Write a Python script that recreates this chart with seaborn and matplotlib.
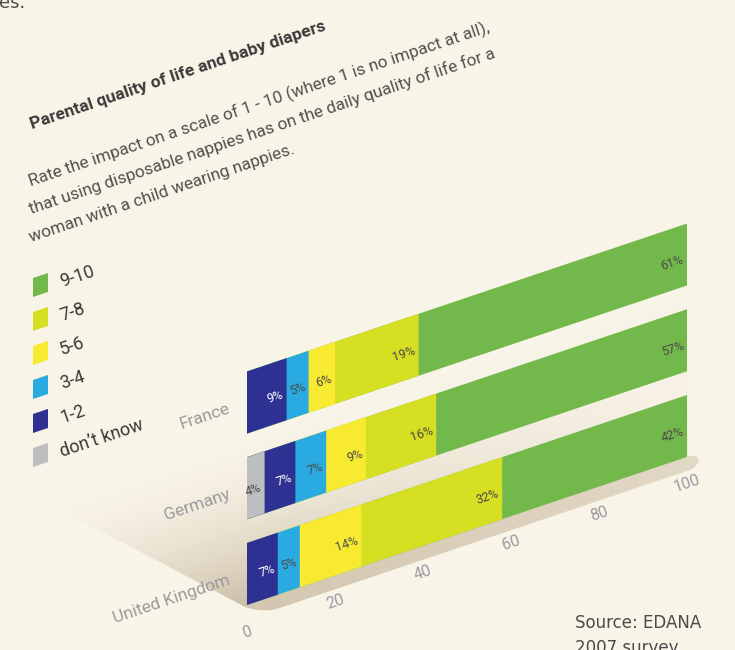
import numpy as np
import pandas as pd
import matplotlib
matplotlib.use("Agg")
import matplotlib.pyplot as plt
from matplotlib.transforms import Affine2D
from matplotlib.patches import Polygon
import seaborn as sns

# ---- data -------------------------------------------------------------
countries = ["France", "Germany", "United Kingdom"]
dont_know = [0, 4, 0]
score_1_2 = [9, 7, 7]
score_3_4 = [5, 7, 5]
score_5_6 = [6, 9, 14]
score_7_8 = [19, 16, 32]
score_9_10 = [61, 57, 42]
stack_order = ["don\u2019t know", "1-2", "3-4", "5-6", "7-8", "9-10"]
legend_order = ["9-10", "7-8", "5-6", "3-4", "1-2", "don\u2019t know"]
tick_values = [0, 20, 40, 60, 80, 100]
palette = {
    "9-10": "#73b84b",
    "7-8": "#d7df23",
    "5-6": "#f7ea31",
    "3-4": "#29abe2",
    "1-2": "#2e3192",
    "don\u2019t know": "#bcbec0",
}

title = "Parental quality of life and baby diapers"
subtitle = [
    "Rate the impact on a scale of 1 - 10 (where 1 is no impact at all),",
    "that using disposable nappies has on the daily quality of life for a",
    "woman with a child wearing nappies.",
]
source = ["Source: EDANA", "2007 survey"]

# ---- layout (pixels) --------------------------------------------------
W, H = 735, 650
PX0 = 247.0          # pixel column of value 0
PX_PER = 4.4         # pixels per percentage point
RISE = 1.48          # pixels the baseline climbs per percentage point
ROW_PX = 85.75       # pixels between bar rows
ROW0 = 402.5         # pixel row of the first bar centre at value 0
ANG = np.degrees(np.arctan(RISE / PX_PER))
BG = "#f9f4e8"

plt.rcParams["font.family"] = ["Roboto", "DejaVu Sans"]

# ---- tidy table of stacked bar ends --------------------------------------
series = [dont_know, score_1_2, score_3_4, score_5_6, score_7_8, score_9_10]
rows = []
for ci, c in enumerate(countries):
    run = 0
    for band, vals in zip(stack_order, series):
        run += vals[ci]
        rows.append({"country": c, "band": band, "value": vals[ci], "end": run})
df = pd.DataFrame(rows)

fig = plt.figure(figsize=(W / 100, H / 100), dpi=100, facecolor=BG)
ax = fig.add_axes([0, 0, 1, 1])
ax.patch.set_visible(False)

# ---- floor shading underneath the bars ------------------------------------
yy, xx = np.mgrid[0:H, 0:W] + 0.5
slope = RISE / PX_PER
v = yy + slope * (xx - PX0)                  # constant along the bar direction
cosA = np.cos(np.radians(ANG))
e1 = -(478 + 0.526 * xx - yy) / np.hypot(1, 0.526)
e2 = (v - 619) * cosA
r = 14
q1 = np.maximum(e1 + r, 0)
q2 = np.maximum(e2 + r, 0)
sdf = np.hypot(q1, q2) + np.minimum(np.maximum(e1 + r, e2 + r), 0) - r
inside = np.clip(0.5 - sdf, 0, 1)
cap = ((xx - 688) / 11) ** 2 + ((v - 612) / 7.5) ** 2
right = np.where(xx <= 688, 1.0, np.clip((1 - cap) * 6, 0, 1))

plane = np.clip((v - 440) / 165, 0, 1) ** 1.6
xfade = np.clip(1.2 - (xx - 200) / 420, 0.12, 1)
a_plane = plane * xfade * 0.92
a_band = 0.78 - 0.3 * np.clip((xx - PX0) / 440, 0, 1)
alpha = np.where(v <= 605, a_plane, a_band) * inside * right
alpha = np.where((xx > 688) & (v < 604), 0, alpha)

bg_rgb = np.array(matplotlib.colors.to_rgb(BG))
dark = np.array([200, 186, 160]) / 255
img = bg_rgb[None, None, :] * (1 - alpha[..., None]) + dark[None, None, :] * alpha[..., None]
fig.figimage((img * 255).astype(np.uint8), xo=0, yo=0, origin="upper", zorder=-1)

# ---- stacked bars (later hue levels sit on top) ----------------------------
sns.barplot(
    data=df, x="end", y="country", hue="band",
    hue_order=legend_order, palette=palette, dodge=False,
    orient="h", width=62 / ROW_PX, errorbar=None, saturation=1,
    linewidth=0, legend=False, ax=ax,
)
ax.set_xlim(-PX0 / PX_PER, (W - PX0) / PX_PER)
ax.set_ylim((H - ROW0) / ROW_PX, -ROW0 / ROW_PX)
ax.axis("off")

# shear the data plane so the value axis climbs to the right
k = RISE / ROW_PX
shear = Affine2D(np.array([[1, 0, 0], [-k, 1, 0], [0, 0, 1]]))
skew = shear + ax.transData
for p in ax.patches:
    p.set_transform(skew)
    p.set_edgecolor("none")

# value labels inside each segment
for _, row in df.iterrows():
    if row["value"] <= 0:
        continue
    ci = countries.index(row["country"])
    col = "white" if row["band"] == "1-2" else "#4a4a4a"
    ax.text(row["end"] - 0.8, ci + 0.047, f"{row['value']}%", transform=skew,
            ha="right", va="center", rotation=ANG, rotation_mode="anchor",
            fontsize=9, color=col)

# country names
for ci, c in enumerate(countries):
    ax.text(-3.9, ci, c, transform=skew, ha="right", va="center",
            rotation=ANG, rotation_mode="anchor", fontsize=12.4, color="#999a9d")

# value axis labels along the front edge
for t in tick_values:
    ax.text(t, 2 + 0.36 + 27 / ROW_PX, str(t), transform=skew, ha="center",
            va="center", rotation=ANG, rotation_mode="anchor", fontsize=11.5,
            color="#9a9ca0")

# ---- titles, legend and source in pixel space ---------------------------
PIX = Affine2D().scale(1, -1).translate(0, H)

fig.text(-1, 8, "es.", transform=PIX, ha="left", va="baseline",
         fontsize=13, color="#4a4a4a", family="DejaVu Sans")

fig.text(32, 129, title, transform=PIX, ha="left", va="baseline",
         rotation=ANG, rotation_mode="anchor", fontsize=12.5,
         fontweight="bold", color="#3a3a3a")
for i, line in enumerate(subtitle):
    fig.text(31, 186 + 28 * i, line, transform=PIX, ha="left", va="baseline",
             rotation=ANG, rotation_mode="anchor", fontsize=12.3,
             color="#505050")

for i, band in enumerate(legend_order):
    yb = 297 + 34 * i
    sq = Polygon([(33, yb), (48, yb - 15 * slope), (48, yb - 15 * slope - 19),
                  (33, yb - 19)], closed=True, transform=PIX,
                 facecolor=palette[band], edgecolor="none")
    fig.add_artist(sq)
    fig.text(62, yb - 29 * slope, band, transform=PIX, ha="left",
             va="baseline", rotation=ANG, rotation_mode="anchor",
             fontsize=13, color="#3a3a3a")

for i, line in enumerate(source):
    fig.text(575, 628 + 25 * i, line, transform=PIX, ha="left",
             va="baseline", fontsize=12, color="#4a4a4a", family="DejaVu Sans")

fig.savefig("out.png", dpi=100, facecolor=BG)
